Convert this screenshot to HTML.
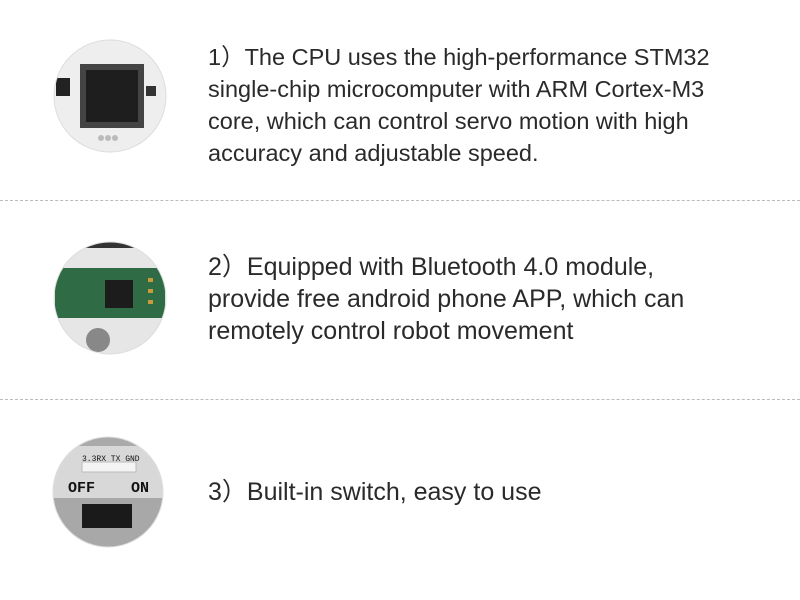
<!DOCTYPE html>
<html><head><meta charset="utf-8"><style>
body{margin:0;width:800px;height:600px;background:#fff;position:relative;overflow:hidden;font-family:"Liberation Sans","Noto Sans CJK SC",sans-serif;}
.t{position:absolute;left:208px;font-size:23.5px;line-height:32px;color:#2a2a2a;white-space:nowrap;}
.d{position:absolute;left:0;width:800px;height:0;border-top:1px dashed #bbb;}
svg{position:absolute;left:0;top:0;}
</style></head><body>
<svg width="800" height="600">
<defs>
<clipPath id="c1"><circle cx="110" cy="96" r="56"/></clipPath>
<clipPath id="c2"><circle cx="110" cy="298" r="56"/></clipPath>
<clipPath id="c3"><circle cx="108" cy="492" r="55"/></clipPath>
</defs>
<g clip-path="url(#c1)">
<rect x="50" y="38" width="120" height="120" fill="#eeeeee"/>
<rect x="80" y="64" width="64" height="64" fill="#444"/>
<rect x="86" y="70" width="52" height="52" fill="#1e1e1e"/>
<rect x="56" y="78" width="14" height="18" fill="#222"/>
<rect x="146" y="86" width="10" height="10" fill="#333"/>
<circle cx="101" cy="138" r="3" fill="#bbb"/><circle cx="108" cy="138" r="3" fill="#bbb"/><circle cx="115" cy="138" r="3" fill="#bbb"/>
</g>
<circle cx="110" cy="96" r="56" fill="none" stroke="#ddd"/>
<g clip-path="url(#c2)">
<rect x="50" y="240" width="120" height="120" fill="#e6e6e6"/>
<rect x="50" y="240" width="120" height="8" fill="#333"/>
<rect x="55" y="268" width="110" height="50" fill="#2f6b45"/>
<rect x="105" y="280" width="28" height="28" fill="#1c1c1c"/>
<rect x="148" y="278" width="5" height="4" fill="#c99a3a"/><rect x="148" y="289" width="5" height="4" fill="#c99a3a"/><rect x="148" y="300" width="5" height="4" fill="#c99a3a"/>
<circle cx="98" cy="340" r="12" fill="#888"/>
</g>
<circle cx="110" cy="298" r="56" fill="none" stroke="#ddd"/>
<g clip-path="url(#c3)">
<rect x="50" y="436" width="120" height="120" fill="#d8d8d8"/>
<rect x="50" y="436" width="120" height="10" fill="#aaa"/>
<rect x="82" y="462" width="54" height="10" fill="#f4f4f4" stroke="#bbb"/>
<text x="68" y="492" font-size="15" font-weight="bold" fill="#111" font-family="Liberation Mono">OFF</text>
<text x="131" y="492" font-size="15" font-weight="bold" fill="#111" font-family="Liberation Mono">ON</text>
<text x="82" y="461" font-size="8" fill="#111" font-family="Liberation Mono">3.3RX TX GND</text>
<rect x="50" y="498" width="120" height="50" fill="#a8a8a8"/>
<rect x="82" y="504" width="50" height="24" fill="#1a1a1a"/>
</g>
<circle cx="108" cy="492" r="55" fill="none" stroke="#ddd"/>
</svg>
<div class="t" style="top:41px">1）The CPU uses the high-performance STM32<br>single-chip microcomputer with ARM Cortex-M3<br>core, which can control servo motion with high<br>accuracy and adjustable speed.</div>
<div class="d" style="top:200px"></div>
<div class="t" style="top:251px;font-size:25px">2）Equipped with Bluetooth 4.0 module,<br>provide free android phone APP, which can<br>remotely control robot movement</div>
<div class="d" style="top:399px"></div>
<div class="t" style="top:476px;font-size:25px">3）Built-in switch, easy to use</div>
</body></html>
